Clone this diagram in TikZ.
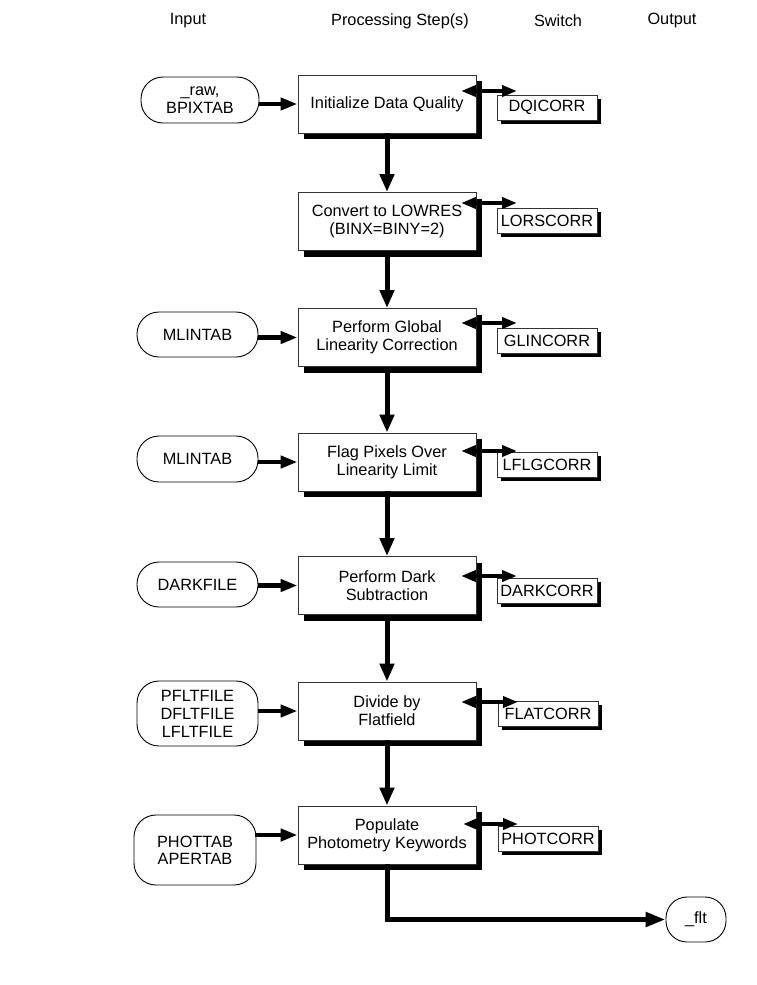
\documentclass[tikz,border=0pt]{standalone}
\usepackage{fontspec}
\setmainfont{Liberation Sans}
\usetikzlibrary{arrows.meta,shadows}
\begin{document}
\begin{tikzpicture}[x=1pt,y=-1pt,
  every node/.style={font=\fontsize{16.3}{18}\selectfont},
  procbox/.style={draw=black!80, line width=0.9pt, fill=white, rectangle,
    inner sep=0pt, minimum width=178pt, minimum height=58pt, align=center,
    drop shadow={shadow xshift=6pt, shadow yshift=-6pt, fill=black, opacity=1}},
  swbox/.style={draw=black!80, line width=0.9pt, fill=white, rectangle,
    inner sep=0pt, minimum width=100pt, minimum height=25pt, align=center,
    drop shadow={shadow xshift=3.5pt, shadow yshift=-3.5pt, fill=black, opacity=1}},
  inbox/.style={draw=black, line width=0.9pt, fill=white, rectangle,
    rounded corners=22pt, inner sep=0pt, align=center},
  hdr/.style={font=\fontsize{16.3}{18}\selectfont},
  inarrow/.style={line width=4.5pt, -{Triangle[length=17pt,width=12pt]}},
  downarrow/.style={line width=5pt, -{Triangle[length=18pt,width=14pt]}},
  dblarrow/.style={line width=4pt, {Triangle[length=15pt,width=11pt]}-{Triangle[length=15pt,width=11pt]}},
  outarrow/.style={line width=5pt, -{Triangle[length=20pt,width=14pt]}}
]
\useasboundingbox (0,0) rectangle (757,985);

% headers
\node[hdr] (hin)  at (188,21) {Input};
\node[hdr] (hps)  at (400,21) {Processing Step(s)};
\node[hdr] (hsw)  at (558,21) {Switch};
\node[hdr] (hout) at (672,21) {Output};

% processing boxes
\node[procbox] (b1) at (387,104)   {Initialize Data Quality};
\node[procbox] (b2) at (387,221.5) {Convert to LOWRES\\(BINX=BINY=2)};
\node[procbox] (b3) at (387,337.5) {Perform Global\\Linearity Correction};
\node[procbox] (b4) at (387,462)   {Flag Pixels Over\\Linearity Limit};
\node[procbox] (b5) at (387,585.5) {Perform Dark\\Subtraction};
\node[procbox] (b6) at (387,711)   {Divide by\\Flatfield};
\node[procbox] (b7) at (387,835)   {Populate\\Photometry Keywords};

% switches
\node[swbox] (s1) at (547,107.5) {DQICORR};
\node[swbox] (s2) at (547,221)   {LORSCORR};
\node[swbox] (s3) at (547,341)   {GLINCORR};
\node[swbox] (s4) at (547,464.5) {LFLGCORR};
\node[swbox] (s5) at (547,590.5) {DARKCORR};
\node[swbox] (s6) at (548,714)   {FLATCORR};
\node[swbox] (s7) at (548,839)   {PHOTCORR};

% inputs
\node[inbox, minimum width=118pt, minimum height=46pt] (i1) at (200,100)   {\_raw,\\BPIXTAB};
\node[inbox, minimum width=121pt, minimum height=45pt] (i3) at (197.5,334.5) {MLINTAB};
\node[inbox, minimum width=121pt, minimum height=46pt] (i4) at (197.5,459)   {MLINTAB};
\node[inbox, minimum width=121pt, minimum height=45pt] (i5) at (197.5,584.5) {DARKFILE};
\node[inbox, minimum width=121pt, minimum height=65pt] (i6) at (197.5,713.5) {PFLTFILE\\DFLTFILE\\LFLTFILE};
\node[inbox, minimum width=122pt, minimum height=70pt, font=\fontsize{16.3}{17}\selectfont] (i7) at (195,850) {PHOTTAB\\APERTAB};

% output
\node[inbox, rounded corners=21pt, minimum width=60pt, minimum height=45pt] (flt) at (696,919.5) {\_flt};

% input arrows
\draw[inarrow] (i1.east |- b1.west) -- (b1.west);
\draw[inarrow] (i3.east |- b3.west) -- (b3.west);
\draw[inarrow] (i4.east |- b4.west) -- (b4.west);
\draw[inarrow] (i5.east |- b5.west) -- (b5.west);
\draw[inarrow] (i6.east |- b6.west) -- (b6.west);
\draw[inarrow] ([xshift=-1pt]i7.east |- b7.west) -- (b7.west);

% vertical flow arrows
\draw[downarrow] (b1.south) -- (b2.north);
\draw[downarrow] (b2.south) -- (b3.north);
\draw[downarrow] (b3.south) -- (b4.north);
\draw[downarrow] (b4.south) -- (b5.north);
\draw[downarrow] (b5.south) -- (b6.north);
\draw[downarrow] (b6.south) -- (b7.north);

% switch double arrows
\coordinate (l1) at (461,91);  \coordinate (r1) at (517,91);
\coordinate (l2) at (461,203); \coordinate (r2) at (517,203);
\coordinate (l3) at (461,323); \coordinate (r3) at (517,323);
\coordinate (l4) at (461,451); \coordinate (r4) at (517,451);
\coordinate (l5) at (461,576); \coordinate (r5) at (517,576);
\coordinate (l6) at (461,702); \coordinate (r6) at (518,702);
\coordinate (l7) at (463,824); \coordinate (r7) at (518,824);
\draw[dblarrow] (l1) -- (r1);
\draw[dblarrow] (l2) -- (r2);
\draw[dblarrow] (l3) -- (r3);
\draw[dblarrow] (l4) -- (r4);
\draw[dblarrow] (l5) -- (r5);
\draw[dblarrow] (l6) -- (r6);
\draw[dblarrow] (l7) -- (r7);

% output arrow
\draw[outarrow] (b7.south) |- (flt.west);
\end{tikzpicture}
\end{document}
